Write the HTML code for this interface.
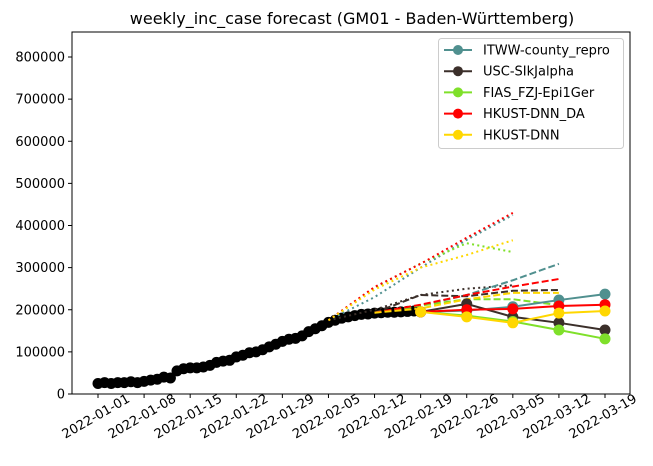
<!DOCTYPE html>
<html><head><meta charset="utf-8"><style>
body{margin:0;background:#fff}svg{display:block;font-family:"DejaVu Sans","Liberation Sans",sans-serif}
</style></head><body>
<svg id="c" width="653" height="466"></svg>
<script>
const truthStart = "2022-01-01";
const truthValues = [25,27,25,27,27,29,27, 30,33,35,40,38,55,60, 62,62,64,68,75,78,80, 88,92,98,100,105,112,118, 125,130,132,138,148,155,162, 170,175,180,183,186,189,190, 192,193,194,194,195,196,197, 195];
const models = ["ITWW-county_repro","USC-SIkJalpha","FIAS_FZJ-Epi1Ger","HKUST-DNN_DA","HKUST-DNN"];
const colors = ["#50908f","#3b2f2a","#7fe02a","#ff0000","#ffd700"];
const solidDates = ["2022-02-19","2022-02-26","2022-03-05","2022-03-12","2022-03-19"];
const solidTeal = [195,198,207,223,237];
const solidDark = [195,214,183,169,152];
const solidGreen = [195,186,172,152,131];
const solidRed = [195,200,202,209,212];
const solidYellow = [195,183,169,192,197];
const dashDates = ["2022-02-12","2022-02-19","2022-02-26","2022-03-05","2022-03-12"];
const dashTeal = [193,210,235,270,309];
const dashDark = [193,235,232,245,247];
const dashGreen = [193,210,225,225,211];
const dashRed = [193,212,235,255,273];
const dashYellow = [193,203,225,240,240];
const dotDates = ["2022-02-05","2022-02-12","2022-02-19","2022-02-26","2022-03-05"];
const dotTeal = [175,230,300,366,425];
const dotDark = [175,200,235,250,258];
const dotGreen = [175,252,310,358,337];
const dotRed = [175,254,309,371,430];
const dotYellow = [175,248,300,330,365];
const yTicks = [0,100000,200000,300000,400000,500000,600000,700000,800000];
const xTicks = ["2022-01-01","2022-01-08","2022-01-15","2022-01-22","2022-01-29","2022-02-05","2022-02-12","2022-02-19","2022-02-26","2022-03-05","2022-03-12","2022-03-19"];

const svg=document.getElementById('c');const NS="http://www.w3.org/2000/svg";
const L=72,R=630,T=32,B=394;
const d0=Date.parse(truthStart);
const day=s=>(Date.parse(s)-d0)/864e5;
const x=dd=>98+dd*507/77;
const y=v=>B-v*(B-57)/800000;
function el(t,a,p){const e=document.createElementNS(NS,t);for(const k in a)e.setAttribute(k,a[k]);(p||svg).appendChild(e);return e;}
let e;
e=el('text',{x:352,y:24,'text-anchor':'middle','font-size':16,fill:'#000'});e.textContent="weekly_inc_case forecast (GM01 - Baden-Württemberg)";


yTicks.forEach(v=>{
 el('line',{x1:L-4,x2:L,y1:y(v),y2:y(v),stroke:'#000'});
 e=el('text',{x:L-7,y:y(v)+4.5,'text-anchor':'end','font-size':13});e.textContent=String(v);
 
 
});
xTicks.forEach(s=>{
 const px=x(day(s));
 el('line',{x1:px,x2:px,y1:B,y2:B+4,stroke:'#000'});
 e=el('text',{x:0,y:0,'text-anchor':'middle','font-size':13,transform:`translate(${px},${B+26}) rotate(-30)`});e.textContent=s;
 
 
});
const series=[
 [dotDates,[dotTeal,dotDark,dotGreen,dotRed,dotYellow],'2,3.3',false],
 [dashDates,[dashTeal,dashDark,dashGreen,dashRed,dashYellow],'7,3',false],
 [solidDates,[solidTeal,solidDark,solidGreen,solidRed,solidYellow],null,true]];
const tp=truthValues.map((v,i)=>[x(i),y(v*1000)]);
e=el('polyline',{points:tp.map(p=>p.join(',')).join(' '),fill:'none',stroke:'#000','stroke-width':1.5});


tp.forEach(p=>{e=el('circle',{cx:p[0],cy:p[1],r:5.5,fill:'#000'});
 
 });
series.forEach(([dates,arrs,dash,mark])=>{
 arrs.forEach((arr,m)=>{
  const pts=arr.map((v,i)=>[x(day(dates[i])),y(v*1000)]);
  const a={points:pts.map(p=>p.join(',')).join(' '),fill:'none',stroke:colors[m],'stroke-width':2};
  if(dash)a['stroke-dasharray']=dash;
  e=el('polyline',a);
  
  
  if(mark)pts.forEach(p=>{e=el('circle',{cx:p[0],cy:p[1],r:5.5,fill:colors[m]});
   
   });
 });
});
e=el('rect',{x:L,y:T,width:R-L,height:B-T,fill:'none',stroke:'#000','stroke-width':1});


const lg=el('g',{});


el('rect',{x:438.5,y:38.5,width:185,height:110,rx:3,fill:'#fff','fill-opacity':0.8,stroke:'#ccc'},lg);
models.forEach((m,i)=>{
 const yy=50+i*21.2;
 const g=el('g',{},lg);
 
 
 el('line',{x1:444,x2:472,y1:yy,y2:yy,stroke:colors[i],'stroke-width':2},g);
 el('circle',{cx:458,cy:yy,r:5,fill:colors[i]},g);
 const t=el('text',{x:483,y:yy+4.5,'font-size':13},g);t.textContent=m;
});
</script>
</body></html>
